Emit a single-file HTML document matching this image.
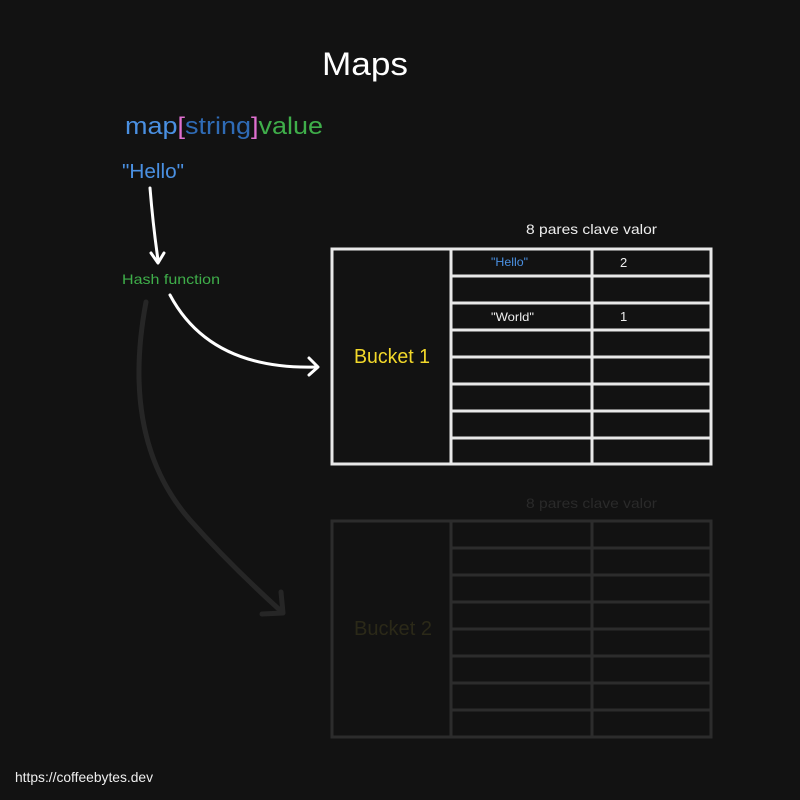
<!DOCTYPE html>
<html><head><meta charset="utf-8"><style>
html,body{margin:0;padding:0;background:#121212;}
svg{display:block;font-family:"Liberation Sans",sans-serif;}
</style></head><body>
<svg width="800" height="800" viewBox="0 0 800 800" xmlns="http://www.w3.org/2000/svg">
<rect width="800" height="800" fill="#121212"/>
<text x="322" y="75" font-size="32" fill="#ffffff" textLength="86" lengthAdjust="spacingAndGlyphs">Maps</text>
<text x="125" y="134" font-size="24" textLength="198" lengthAdjust="spacingAndGlyphs"><tspan fill="#4a90e2">map</tspan><tspan fill="#e070d0">[</tspan><tspan fill="#2f6bb5">string</tspan><tspan fill="#e070d0">]</tspan><tspan fill="#3fae4a">value</tspan></text>
<text x="122" y="178" font-size="20" fill="#4a90e2" textLength="62" lengthAdjust="spacingAndGlyphs">"Hello"</text>
<text x="122" y="284" font-size="14" fill="#3fae4a" textLength="98" lengthAdjust="spacingAndGlyphs">Hash function</text>
<text x="526" y="234" font-size="14" fill="#eeeeee" textLength="131" lengthAdjust="spacingAndGlyphs">8 pares clave valor</text>
<text x="526" y="508" font-size="14" fill="#2a2a2a" textLength="131" lengthAdjust="spacingAndGlyphs">8 pares clave valor</text>

<g fill="none" stroke="#ffffff" stroke-width="3" stroke-linecap="round" stroke-linejoin="round">
<path d="M150 188 Q153 225 158 260"/>
<path d="M151 253 L158 263 L164 253"/>
<path d="M170 295 Q210 370 316 367"/>
<path d="M309 358 L318 367 L309 375"/>
</g>
<g fill="none" stroke="#262626" stroke-width="5" stroke-linecap="round" stroke-linejoin="round">
<path d="M146 302 Q120 440 190 520 Q230 565 282 612"/>
<path d="M281 592 L283 613 L262 614"/>
</g>

<g fill="none" stroke="#e8e8e8" stroke-width="3">
<rect x="332" y="249" width="379" height="215"/>
<line x1="451" y1="249" x2="451" y2="464"/>
<line x1="592" y1="249" x2="592" y2="464"/>
<line x1="451" y1="276" x2="711" y2="276"/>
<line x1="451" y1="303" x2="711" y2="303"/>
<line x1="451" y1="330" x2="711" y2="330"/>
<line x1="451" y1="357" x2="711" y2="357"/>
<line x1="451" y1="384" x2="711" y2="384"/>
<line x1="451" y1="411" x2="711" y2="411"/>
<line x1="451" y1="438" x2="711" y2="438"/>
</g>
<text x="354" y="363" font-size="20" fill="#f2d82a" textLength="76" lengthAdjust="spacingAndGlyphs">Bucket 1</text>
<text x="491" y="266" font-size="12" fill="#4a90e2" textLength="37" lengthAdjust="spacingAndGlyphs">"Hello"</text>
<text x="620" y="267" font-size="13" fill="#eeeeee">2</text>
<text x="491" y="321" font-size="12" fill="#eeeeee" textLength="43" lengthAdjust="spacingAndGlyphs">"World"</text>
<text x="620" y="321" font-size="13" fill="#eeeeee">1</text>

<g fill="none" stroke="#2c2c2c" stroke-width="3">
<rect x="332" y="521" width="379" height="216"/>
<line x1="451" y1="521" x2="451" y2="737"/>
<line x1="592" y1="521" x2="592" y2="737"/>
<line x1="451" y1="548" x2="711" y2="548"/>
<line x1="451" y1="575" x2="711" y2="575"/>
<line x1="451" y1="602" x2="711" y2="602"/>
<line x1="451" y1="629" x2="711" y2="629"/>
<line x1="451" y1="656" x2="711" y2="656"/>
<line x1="451" y1="683" x2="711" y2="683"/>
<line x1="451" y1="710" x2="711" y2="710"/>
</g>
<text x="354" y="635" font-size="20" fill="#2b2918" textLength="78" lengthAdjust="spacingAndGlyphs">Bucket 2</text>

<text x="15" y="782" font-size="14" fill="#eeeeee" textLength="138" lengthAdjust="spacingAndGlyphs">https://coffeebytes.dev</text>
</svg>
</body></html>
